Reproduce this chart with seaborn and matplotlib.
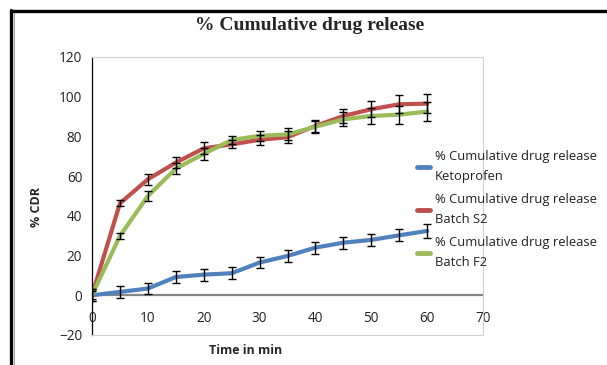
import numpy as np
import pandas as pd
import matplotlib
matplotlib.use("Agg")
import matplotlib.pyplot as plt
from matplotlib.lines import Line2D
import seaborn as sns

# Sampling times (min)
time_min = [0, 5, 10, 15, 20, 25, 30, 35, 40, 45, 50, 55, 60]

# % cumulative drug release and standard deviations
ketoprofen = [0, 1.7, 3.4, 9.2, 10.4, 11.1, 16.5, 19.8, 24.0, 26.5, 27.9, 30.2, 32.4]
ketoprofen_sd = [2.0, 3.0, 3.0, 3.0, 3.0, 3.0, 3.0, 3.0, 3.0, 3.0, 3.0, 3.0, 3.4]
batch_s2 = [0, 46.3, 58.4, 66.8, 74.0, 76.0, 78.3, 79.6, 85.3, 90.3, 93.7, 96.2, 96.5]
batch_s2_sd = [3.0, 1.5, 2.9, 2.7, 3.0, 2.0, 2.5, 3.0, 3.0, 3.5, 4.0, 4.5, 4.7]
batch_f2 = [0, 29.9, 50.0, 63.8, 71.2, 78.2, 80.3, 81.0, 84.9, 88.6, 90.3, 91.0, 92.5]
batch_f2_sd = [3.0, 1.7, 2.5, 2.8, 3.0, 2.0, 2.5, 3.0, 3.0, 3.5, 4.0, 4.5, 4.7]

labels = [
    "% Cumulative drug release\nKetoprofen",
    "% Cumulative drug release\nBatch S2",
    "% Cumulative drug release\nBatch F2",
]
colors = ["#4F81BD", "#C0504D", "#9BBB59"]

x_ticks = [0, 10, 20, 30, 40, 50, 60, 70]
y_ticks = [-20, 0, 20, 40, 60, 80, 100, 120]

sns.set_style("white")
plt.rcParams["font.family"] = ["Open Sans", "DejaVu Sans"]

df = pd.concat([
    pd.DataFrame({"time": time_min, "cdr": vals, "sd": sd, "series": lab})
    for vals, sd, lab in zip([ketoprofen, batch_s2, batch_f2],
                             [ketoprofen_sd, batch_s2_sd, batch_f2_sd], labels)
])

fig = plt.figure(figsize=(6.07, 3.65), dpi=100)
ax = fig.add_axes([92 / 607, 1 - 335 / 365, (483 - 92) / 607, (335 - 57) / 365])

sns.lineplot(data=df, x="time", y="cdr", hue="series", hue_order=labels,
             palette=colors, linewidth=3.0, ax=ax, legend=False, zorder=2)

for lab in labels:
    sub = df[df["series"] == lab]
    ax.errorbar(sub["time"], sub["cdr"], yerr=sub["sd"], fmt="none",
                ecolor="black", elinewidth=1.0, capsize=3, capthick=1.0, zorder=3)

ax.set_xlim(0, 70)
ax.set_ylim(-20, 120)
ax.set_xticks(x_ticks)
ax.set_yticks(y_ticks)
ax.tick_params(axis="both", length=0, labelsize=9.8, colors="#222222")
ax.tick_params(axis="x", pad=-17)
ax.tick_params(axis="y", pad=7)

# plot-area frame
for side in ["top", "right", "bottom"]:
    ax.spines[side].set_color("#D0D0D0")
    ax.spines[side].set_linewidth(0.8)
ax.spines["left"].set_color("black")
ax.spines["left"].set_linewidth(0.9)
ax.axhline(0, color="#868686", linewidth=1.6, zorder=1)

ax.set_xlabel("")
ax.set_ylabel("")
fig.text(246 / 607, 1 - 350 / 365, "Time in min", ha="center", va="center",
         fontsize=9, fontweight="bold")
fig.text(37 / 607, 1 - 207 / 365, "% CDR", ha="center", va="center",
         rotation=90, fontsize=9, fontweight="bold")
fig.text(310 / 607, 1 - 25 / 365, "% Cumulative drug release", ha="center",
         va="center", fontsize=14, fontweight="bold", family="Liberation Serif")

handles = [Line2D([0], [0], color=c, linewidth=3.5) for c in colors]
leg = fig.legend(handles, labels, loc="upper left",
                 bbox_to_anchor=(417 / 607, 1 - 150 / 365), frameon=False,
                 fontsize=9.4, handlelength=1.0, handletextpad=0.35,
                 labelspacing=0.75, borderaxespad=0, borderpad=0)
for t in leg.get_texts():
    t.set_linespacing(1.7)
    t.set_color("#222222")

# outer chart border
fig.add_artist(Line2D([10.5 / 607, 10.5 / 607], [0, 1 - 10 / 365], color="black",
                      linewidth=2.4, transform=fig.transFigure))
fig.add_artist(Line2D([10.5 / 607, 1], [1 - 11 / 365, 1 - 11 / 365], color="black",
                      linewidth=2.4, transform=fig.transFigure))
fig.add_artist(Line2D([14 / 607, 14 / 607], [0, 1 - 13 / 365], color="#A0A0A0",
                      linewidth=0.8, transform=fig.transFigure))

fig.savefig("out.png", dpi=100)
